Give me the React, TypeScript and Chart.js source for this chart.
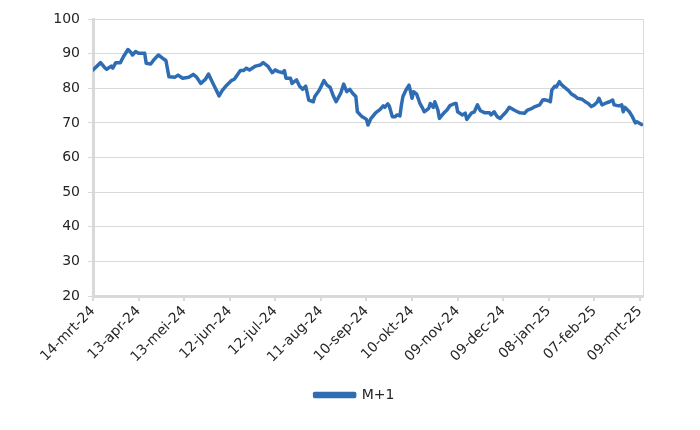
import React, { useEffect, useRef } from "react";
import { Chart, registerables } from "chart.js";

Chart.register(...registerables);

// Day offsets from 14-mrt-24 and M+1 values
const dayOffsets = [
  0, 5, 8, 9, 12, 13, 15, 18, 20, 23, 25, 26, 28, 30, 34, 35, 38, 40, 43, 46, 48, 50, 54, 56, 59,
  63, 66, 68, 71, 74, 76, 79, 83, 85, 88, 91, 93, 97, 99, 101, 103, 107, 110, 112, 115, 118, 120,
  122, 125, 126, 127, 130, 131, 134, 136, 138, 140, 142, 145, 146, 149, 152, 154, 156, 158, 160,
  163, 165, 167, 169, 171, 173, 174, 177, 178, 180, 181, 183, 184, 186, 189, 191, 192, 194, 195,
  197, 199, 200, 202, 203, 204, 206, 208, 210, 211, 213, 214, 215, 217, 218, 221, 222, 224, 225,
  227, 228, 231, 233, 235, 238, 239, 240, 243, 245, 246, 249, 251, 253, 255, 258, 261, 262, 264,
  266, 268, 270, 272, 274, 278, 281, 284, 286, 289, 291, 294, 296, 297, 300, 301, 302, 304, 305,
  307, 308, 310, 313, 315, 317, 319, 322, 324, 326, 328, 330, 332, 333, 335, 337, 340, 342, 343,
  346, 348, 349, 350, 353, 355, 357, 358, 361,
];

const m1Values = [
  85.3, 87.4, 85.8, 85.5, 86.4, 85.8, 87.4, 87.4, 89.1, 91.2, 90.3, 89.6, 90.6, 90.1, 90.1, 87.2,
  87.0, 88.2, 89.6, 88.6, 88.0, 83.3, 83.2, 83.8, 82.9, 83.2, 84.0, 83.3, 81.4, 82.6, 84.1, 81.4,
  77.8, 79.3, 80.9, 82.2, 82.6, 85.1, 85.1, 85.8, 85.3, 86.4, 86.7, 87.4, 86.4, 84.5, 85.3, 84.8,
  84.5, 85.1, 82.9, 82.9, 81.4, 82.4, 80.6, 79.7, 80.6, 76.6, 76.1, 77.6, 79.5, 82.2, 80.9, 80.3,
  78.0, 76.1, 78.5, 81.2, 79.0, 79.7, 78.5, 77.6, 73.2, 71.8, 71.6, 71.0, 69.4, 71.3, 71.8, 72.9,
  73.9, 74.9, 74.5, 75.5, 74.9, 71.8, 71.8, 72.3, 72.0, 75.2, 77.6, 79.5, 80.9, 77.1, 79.0, 78.3,
  77.1, 75.8, 74.2, 73.2, 74.2, 75.6, 74.5, 76.1, 73.7, 71.3, 72.9, 73.7, 75.0, 75.6, 75.6, 73.2,
  72.3, 72.8, 71.0, 72.8, 73.2, 75.2, 73.5, 72.9, 72.9, 72.3, 73.2, 71.8, 71.3, 72.3, 73.2, 74.5,
  73.5, 72.9, 72.8, 73.7, 74.2, 74.7, 75.2, 76.6, 76.7, 76.4, 76.1, 79.5, 80.6, 80.4, 81.9, 81.2,
  80.4, 79.3, 78.3, 77.8, 77.1, 76.8, 76.1, 75.6, 74.7, 75.2, 76.1, 77.1, 75.2, 75.6, 76.1, 76.6,
  75.2, 74.9, 75.2, 73.2, 74.5, 73.2, 71.8, 70.0, 70.3, 69.5,
];

const tickDays = [0, 30, 60, 90, 120, 150, 180, 210, 240, 270, 300, 330, 360];
const tickLabels = [
  "14-mrt-24", "13-apr-24", "13-mei-24", "12-jun-24", "12-jul-24", "11-aug-24", "10-sep-24",
  "10-okt-24", "09-nov-24", "09-dec-24", "08-jan-25", "07-feb-25", "09-mrt-25",
];

const seriesName = "M+1";
const lineColor = "#2e6db4";
const gridColor = "#d9d9d9";
const fontFamily = "'DejaVu Sans', sans-serif";

const rightBorder = {
  id: "rightBorder",
  beforeDatasetsDraw(chart: any) {
    const { ctx, chartArea } = chart;
    ctx.save();
    ctx.strokeStyle = gridColor;
    ctx.lineWidth = 1;
    ctx.beginPath();
    ctx.moveTo(chartArea.right + 0.5, chartArea.top);
    ctx.lineTo(chartArea.right + 0.5, chartArea.bottom);
    ctx.stroke();
    ctx.restore();
  },
};

// Center the legend under the region the reference uses
const legendShift = {
  id: "legendShift",
  afterLayout(chart: any) {
    const lg = chart.legend;
    if (lg) {
      lg.left += 33;
      lg.right += 33;
    }
  },
};

export default function App() {
  const ref = useRef<HTMLCanvasElement | null>(null);

  useEffect(() => {
    if (!ref.current) return;
    const points = dayOffsets.map((d, i) => ({ x: d, y: m1Values[i] }));
    const chart = new Chart(ref.current, {
      type: "line",
      data: {
        datasets: [
          {
            label: seriesName,
            data: points,
            borderColor: lineColor,
            backgroundColor: lineColor,
            borderWidth: 3.5,
            pointRadius: 0,
            tension: 0,
            borderJoinStyle: "round",
            borderCapStyle: "round",
          },
        ],
      },
      options: {
        animation: false,
        responsive: false,
        maintainAspectRatio: false,
        layout: { padding: { left: 0, right: 57, top: 19, bottom: 18 } },
        plugins: {
          tooltip: { enabled: false },
          legend: {
            position: "bottom",
            labels: {
              boxWidth: 40,
              boxHeight: 3,
              padding: 10,
              color: "#262626",
              font: { family: fontFamily, size: 14 },
            },
          },
        },
        scales: {
          x: {
            type: "linear",
            min: 0,
            max: 362,
            afterBuildTicks(scale: any) {
              scale.ticks = tickDays.map((v) => ({ value: v }));
            },
            afterFit(scale: any) {
              scale.height = 82;
            },
            ticks: {
              autoSkip: false,
              maxRotation: 45,
              minRotation: 45,
              padding: 2,
              color: "#262626",
              font: { family: fontFamily, size: 14 },
              callback(value: any) {
                const idx = tickDays.indexOf(Number(value));
                return idx >= 0 ? tickLabels[idx] : "";
              },
            },
            grid: {
              display: true,
              drawOnChartArea: false,
              drawTicks: true,
              tickLength: 5,
              color: gridColor,
              lineWidth: 2,
            },
            border: { display: true, color: gridColor, width: 3 },
          },
          y: {
            min: 20,
            max: 100,
            afterFit(scale: any) {
              scale.width = 93;
            },
            ticks: {
              stepSize: 10,
              padding: 8,
              color: "#262626",
              font: { family: fontFamily, size: 14 },
            },
            grid: {
              color: gridColor,
              lineWidth: 1,
              tickLength: 5,
              drawTicks: true,
            },
            border: { display: true, color: gridColor, width: 3 },
          },
        },
      },
      plugins: [rightBorder, legendShift],
    });
    return () => chart.destroy();
  }, []);

  return (
    <div style={{ position: "fixed", left: 0, top: 0, width: 700, height: 430, background: "#fff" }}>
      <canvas ref={ref} width={700} height={430} style={{ width: 700, height: 430 }} />
    </div>
  );
}
